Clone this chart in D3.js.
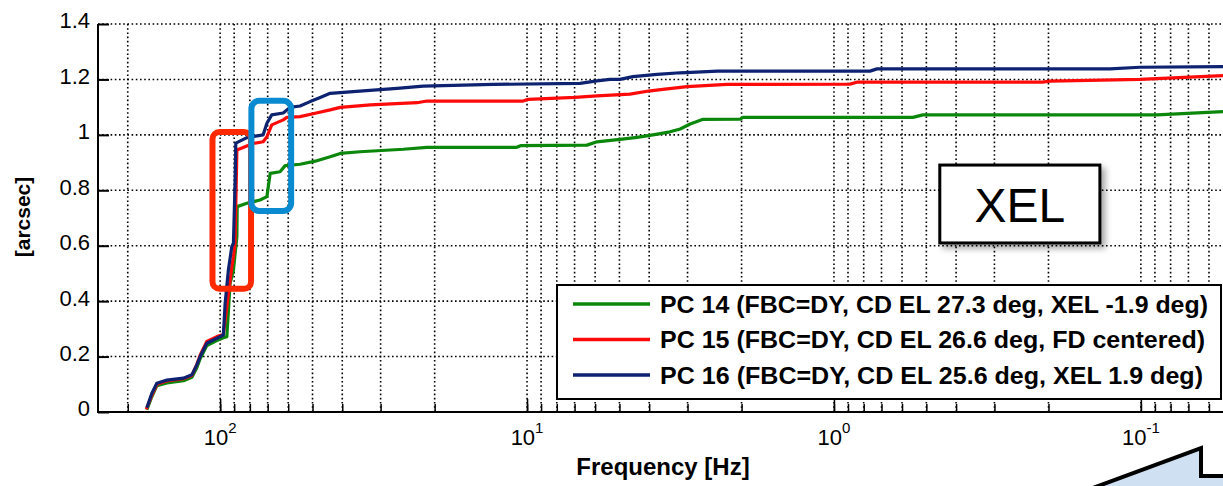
<!DOCTYPE html>
<html>
<head>
<meta charset="utf-8">
<script src="https://cdn.jsdelivr.net/npm/d3@7"></script>
<style>
  body { margin: 0; background: #fff; }
  svg { display: block; font-family: "Liberation Sans", Arial, Helvetica, sans-serif; }
</style>
</head>
<body>
<div id="chart"></div>
<script>
// cumulative RMS curves, [frequency Hz, arcsec]
var pc14 = [[173.3,0.008],[167.0,0.055],[160.8,0.095],[149.1,0.105],[131.7,0.113],[123.6,0.125],
  [119.1,0.160],[116.2,0.192],[110.5,0.240],[102.5,0.258],[97.6,0.268],[95.1,0.272],[92.8,0.464],
  [90.5,0.512],[88.2,0.633],[88.0,0.741],[81.8,0.753],[74.1,0.765],[70.4,0.777],[68.7,0.861],
  [63.8,0.867],[61.4,0.889],[54.9,0.894],[49.0,0.905],[43.8,0.921],[40.6,0.933],[35.0,0.939],
  [25.3,0.948],[21.2,0.955],[10.8,0.955],[10.5,0.961],[6.38,0.963],[5.92,0.975],[4.98,0.984],
  [4.38,0.991],[3.89,1.000],[3.42,1.011],[3.17,1.021],[2.94,1.039],[2.67,1.056],[2.02,1.057],
  [1.98,1.063],[0.553,1.063],[0.513,1.072],[0.0887,1.072],[0.054,1.084]];

var pc15 = [[174.0,0.010],[167.0,0.060],[160.8,0.100],[149.1,0.112],[131.7,0.120],[123.6,0.132],
  [119.1,0.172],[116.2,0.205],[110.5,0.255],[102.5,0.272],[97.6,0.280],[95.1,0.380],[91.6,0.524],
  [90.5,0.560],[89.4,0.609],[88.2,0.945],[78.1,0.969],[72.4,0.975],[70.4,0.993],[67.9,1.036],
  [62.3,1.054],[60.6,1.063],[54.9,1.066],[49.0,1.078],[43.8,1.090],[40.6,1.099],[32.4,1.108],
  [22.8,1.116],[21.2,1.122],[10.3,1.122],[9.92,1.128],[6.98,1.135],[5.92,1.141],[4.62,1.147],
  [3.97,1.159],[3.61,1.164],[3.01,1.174],[2.23,1.182],[0.887,1.183],[0.842,1.190],[0.209,1.190],
  [0.198,1.194],[0.1008,1.200],[0.054,1.214]];

var pc16 = [[173.3,0.015],[167.0,0.067],[160.8,0.104],[149.1,0.115],[131.7,0.122],[123.6,0.134],
  [119.1,0.170],[116.2,0.200],[110.5,0.248],[102.5,0.266],[97.6,0.278],[96.3,0.393],[94.0,0.512],
  [91.6,0.597],[90.5,0.609],[89.4,0.825],[88.9,0.970],[81.8,0.990],[72.4,1.000],[70.4,1.042],
  [67.9,1.072],[62.3,1.079],[59.2,1.099],[54.9,1.104],[50.9,1.120],[47.2,1.135],[43.8,1.150],
  [34.2,1.159],[26.5,1.168],[21.8,1.176],[12.9,1.182],[6.72,1.186],[5.92,1.195],[5.37,1.200],
  [4.98,1.200],[4.52,1.210],[3.77,1.218],[3.17,1.224],[2.39,1.230],[0.763,1.230],[0.724,1.238],
  [0.126,1.238],[0.1008,1.244],[0.054,1.246]];

var seriesNames = ["PC 14 (FBC=DY, CD EL 27.3 deg, XEL -1.9 deg)",
  "PC 15 (FBC=DY, CD EL 26.6 deg, FD centered)",
  "PC 16 (FBC=DY, CD EL 25.6 deg, XEL 1.9 deg)"];
var seriesColors = ["#0b870b", "#ff0a0a", "#0d2270"];

var yTicks = [0, 0.2, 0.4, 0.6, 0.8, 1, 1.2, 1.4];
var xDecades = [2, 1, 0, -1];

// annotation boxes in data space: [f1, f2, v1, v2]
var redBox = [105.9, 79.3, 1.010, 0.445];
var blueBox = [79.1, 58.7, 1.123, 0.725];
var xelBox = [0.452, 0.136, 0.891, 0.610];

var W = 1223, H = 486;
var svg = d3.select("#chart").append("svg").attr("width", W).attr("height", H);

var defs = svg.append("defs");
var f = defs.append("filter").attr("id", "shadow").attr("x", "-20%").attr("y", "-20%")
  .attr("width", "150%").attr("height", "150%");
f.append("feDropShadow").attr("dx", 4).attr("dy", 4).attr("stdDeviation", 3)
  .attr("flood-color", "#000").attr("flood-opacity", 0.35);

var x = d3.scaleLog().domain([250, 0.054]).range([98, 1223]);
var y = d3.scaleLinear().domain([0, 1.4]).range([412, 24]);

// all log ticks inside the domain
var minorVals = [];
for (var d = -2; d <= 2; d++) {
  for (var k = 1; k <= 9; k++) {
    var v = k * Math.pow(10, d);
    if (v <= 250 && v >= 0.054) minorVals.push(v);
  }
}
var majorVals = xDecades.map(function (e) { return Math.pow(10, e); });

// grid
var grid = svg.append("g").attr("stroke", "#000").attr("stroke-width", 1.6)
  .attr("stroke-dasharray", "1.6,2.6");
grid.selectAll("vgrid").data(minorVals).enter().append("line")
  .attr("x1", function (d) { return x(d); }).attr("x2", function (d) { return x(d); })
  .attr("y1", y(0)).attr("y2", y(1.4));
grid.selectAll("hgrid").data(yTicks.slice(1)).enter().append("line")
  .attr("x1", x(250)).attr("x2", W)
  .attr("y1", function (d) { return y(d); }).attr("y2", function (d) { return y(d); });

// bottom axis ticks (inside)
var gx = svg.append("g").attr("transform", "translate(0," + y(0) + ")");
gx.call(d3.axisBottom(x).tickValues(minorVals).tickSize(-8).tickSizeOuter(0).tickFormat(""));
gx.append("g").call(d3.axisBottom(x).tickValues(majorVals).tickSize(-13).tickSizeOuter(0).tickFormat(""));
gx.selectAll(".domain").remove();
gx.selectAll("line").attr("stroke", "#000").attr("stroke-width", 1.5);

// x tick labels 10^n
var xl = svg.append("g").attr("font-size", 22).attr("fill", "#000");
var lab = xl.selectAll("text").data(xDecades).enter().append("text")
  .attr("x", function (d) { return x(Math.pow(10, d)); })
  .attr("y", 445).attr("text-anchor", "middle");
lab.append("tspan").text("10");
lab.append("tspan").attr("font-size", 15).attr("dy", -12).text(function (d) { return d; });

// left axis
var gy = svg.append("g").attr("transform", "translate(" + x(250) + ",0)");
gy.call(d3.axisLeft(y).tickValues(yTicks).tickSize(-11).tickPadding(8)
  .tickFormat(function (d) { return String(d); }));
gy.selectAll(".domain").remove();
gy.selectAll("line").attr("stroke", "#000").attr("stroke-width", 2);
gy.selectAll("text").attr("font-size", 22).attr("font-family", "Liberation Sans, Arial, sans-serif")
  .attr("fill", "#000").attr("dy", "0.18em");

// axis lines
svg.append("line").attr("x1", x(250)).attr("x2", W).attr("y1", y(0)).attr("y2", y(0))
  .attr("stroke", "#000").attr("stroke-width", 2);
svg.append("line").attr("x1", x(250)).attr("x2", x(250)).attr("y1", y(0) + 1).attr("y2", y(1.4))
  .attr("stroke", "#000").attr("stroke-width", 2);

// curves
var line = d3.line().x(function (d) { return x(d[0]); }).y(function (d) { return y(d[1]); });
[pc14, pc15, pc16].forEach(function (s, i) {
  svg.append("path").datum(s).attr("d", line).attr("fill", "none")
    .attr("stroke", seriesColors[i]).attr("stroke-width", 3.2).attr("stroke-linejoin", "round");
});

// highlight boxes
function boxAttrs(sel, b) {
  sel.attr("x", x(b[0])).attr("y", y(b[2]))
    .attr("width", x(b[1]) - x(b[0])).attr("height", y(b[3]) - y(b[2]));
}
svg.append("rect").call(boxAttrs, redBox).attr("rx", 7).attr("fill", "none")
  .attr("stroke", "#ff2a00").attr("stroke-width", 6);
svg.append("rect").call(boxAttrs, blueBox).attr("rx", 8).attr("fill", "none")
  .attr("stroke", "#0a8ad0").attr("stroke-width", 6);

// XEL label box
svg.append("rect").call(boxAttrs, xelBox).attr("fill", "#fff")
  .attr("stroke", "#000").attr("stroke-width", 3).attr("filter", "url(#shadow)");
svg.append("text").attr("x", (x(xelBox[0]) + x(xelBox[1])) / 2).attr("y", 222)
  .attr("text-anchor", "middle").attr("font-size", 48).attr("fill", "#000").text("XEL");

// legend
var leg = svg.append("g");
leg.append("rect").attr("x", 557).attr("y", 285).attr("width", 664).attr("height", 114)
  .attr("fill", "#fff").attr("stroke", "#000").attr("stroke-width", 2);
var rowY = [304, 339.5, 375];
var rowW = [548, 545, 543];
seriesNames.forEach(function (n, i) {
  leg.append("line").attr("x1", 573).attr("x2", 650).attr("y1", rowY[i]).attr("y2", rowY[i])
    .attr("stroke", seriesColors[i]).attr("stroke-width", 3.5);
  leg.append("text").attr("x", 660).attr("y", rowY[i] + 8.5).attr("font-size", 24)
    .attr("font-weight", "bold").attr("fill", "#000")
    .attr("textLength", rowW[i]).attr("lengthAdjust", "spacingAndGlyphs").text(n);
});

// axis titles
svg.append("text").attr("x", 663).attr("y", 475).attr("text-anchor", "middle")
  .attr("font-size", 24).attr("font-weight", "bold").text("Frequency [Hz]");
svg.append("text").attr("transform", "translate(30,217) rotate(-90)").attr("text-anchor", "middle")
  .attr("font-size", 21).attr("font-weight", "bold").text("[arcsec]");

// slide decoration, bottom right
svg.append("path").attr("d", "M1082,492 L1201,448 L1201,476 L1230,476 L1230,492 Z")
  .attr("fill", "#cfe0f2").attr("stroke", "none");
svg.append("path").attr("d", "M1082,492 L1201,448 L1201,476 L1230,476")
  .attr("fill", "none").attr("stroke", "#000").attr("stroke-width", 4);
</script>
</body>
</html>
